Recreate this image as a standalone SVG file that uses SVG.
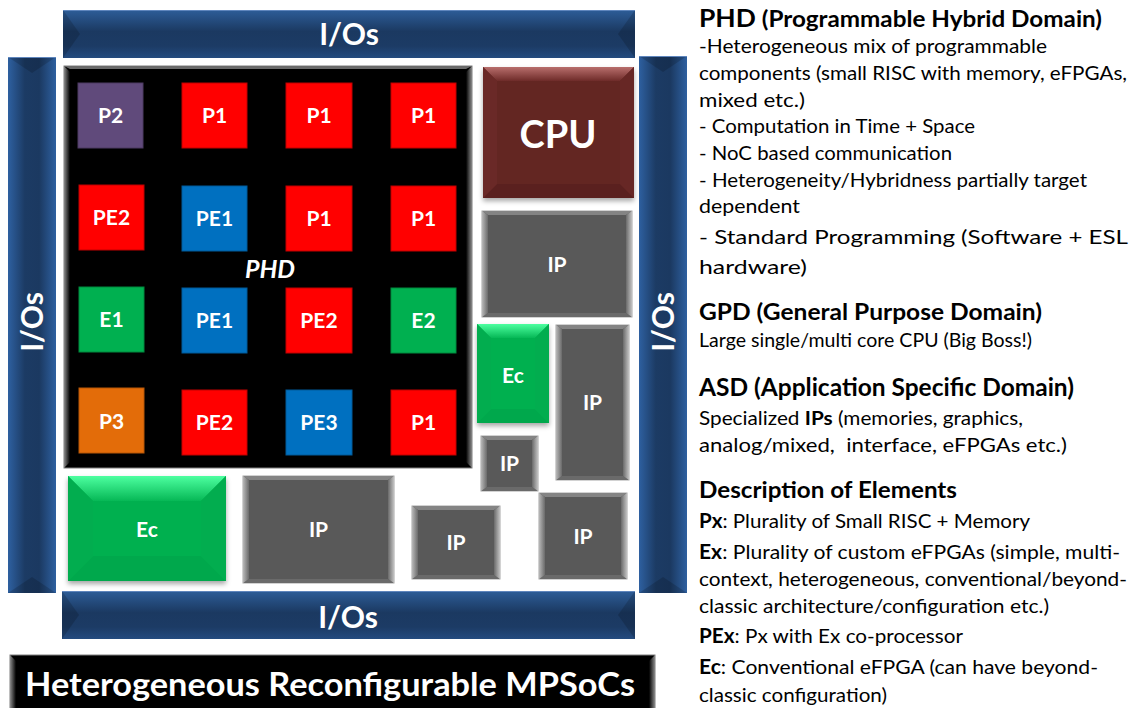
<svg xmlns="http://www.w3.org/2000/svg" width="1135" height="708" viewBox="0 0 1135 708">
<style>
.lbl{font-family:Lato,"Open Sans","Liberation Sans",sans-serif;font-weight:700;fill:#fff;text-anchor:middle}
.t21{font-size:21px}
.io{font-size:30px}
.tile{stroke-width:1}
.red{fill:#ff0000;stroke:#c00000}
.blue{fill:#0070c0;stroke:#005a9a}
.green{fill:#00b050;stroke:#008a3e}
.purple{fill:#604a7b;stroke:#4c3a62}
.orange{fill:#e36c09;stroke:#b85707}
.ipface{fill:#595959;stroke:#a6a6a6;stroke-width:1}
.ipt{fill:#848484}
.ipb{fill:#6a6a6a}
.ipl{fill:url(#ipL)}
.ipr{fill:url(#ipR)}
.endov{fill:#000;opacity:.16}
.edge{stroke:#5f86bd;stroke-width:1;fill:none}
.body{font-family:Lato,"Open Sans","Liberation Sans",sans-serif;font-size:19px;fill:#000}
.b20{font-size:20px}
.head{font-family:Lato,"Open Sans","Liberation Sans",sans-serif;font-weight:700;fill:#000}
.bold{font-weight:700}
</style>
<defs>
<linearGradient id="barH" x1="0" y1="0" x2="0" y2="1">
<stop offset="0" stop-color="#2d5d98"/>
<stop offset="0.45" stop-color="#1b3961"/>
<stop offset="0.75" stop-color="#1c3b65"/>
<stop offset="1" stop-color="#244b7f"/>
</linearGradient>
<linearGradient id="barV" x1="0" y1="0" x2="1" y2="0">
<stop offset="0" stop-color="#2e60a0"/>
<stop offset="0.35" stop-color="#1c3b64"/>
<stop offset="0.65" stop-color="#1b3961"/>
<stop offset="1" stop-color="#2e60a0"/>
</linearGradient>
<linearGradient id="ipL" x1="0" y1="0" x2="1" y2="0">
<stop offset="0" stop-color="#b8b8b8"/>
<stop offset="1" stop-color="#6a6a6a"/>
</linearGradient>
<linearGradient id="ipR" x1="0" y1="0" x2="1" y2="0">
<stop offset="0" stop-color="#6a6a6a"/>
<stop offset="1" stop-color="#c2c2c2"/>
</linearGradient>
<linearGradient id="cpuT" x1="0" y1="0" x2="0" y2="1">
<stop offset="0" stop-color="#b86e6c"/>
<stop offset="1" stop-color="#6e2b29"/>
</linearGradient>
<linearGradient id="ecT" x1="0" y1="0" x2="0" y2="1">
<stop offset="0" stop-color="#4dffa0"/>
<stop offset="1" stop-color="#06b856"/>
</linearGradient>
<linearGradient id="blkL" x1="0" y1="0" x2="1" y2="0">
<stop offset="0" stop-color="#8c8c8c"/>
<stop offset="1" stop-color="#000"/>
</linearGradient>
<linearGradient id="blkR" x1="0" y1="0" x2="1" y2="0">
<stop offset="0" stop-color="#000"/>
<stop offset="1" stop-color="#8c8c8c"/>
</linearGradient>
<filter id="sh" x="-10%" y="-10%" width="120%" height="130%">
<feDropShadow dx="0" dy="3" stdDeviation="2.5" flood-color="#000" flood-opacity="0.35"/>
</filter>
</defs>
<rect width="1135" height="708" fill="#fff"/>

<g id="io-top">
<rect x="63" y="10" width="572" height="48" fill="url(#barH)"/>
<polygon class="endov" points="63,10 80,34 63,58"/>
<polygon class="endov" points="635,10 618,34 635,58"/>
<line class="edge" x1="63" y1="10.5" x2="635" y2="10.5"/>
<text class="lbl io" x="349" y="45">I/Os</text>
</g>
<g id="io-bottom">
<rect x="62" y="591" width="573" height="48" fill="url(#barH)"/>
<polygon class="endov" points="62,591 79,615 62,639"/>
<polygon class="endov" points="635,591 618,615 635,639"/>
<line class="edge" x1="62" y1="591.5" x2="635" y2="591.5"/>
<text class="lbl io" x="348" y="628">I/Os</text>
</g>
<g id="io-left">
<rect x="8" y="57" width="48" height="536" fill="url(#barV)"/>
<polygon class="endov" points="8,57 56,57 32,73"/>
<polygon class="endov" points="8,593 56,593 32,577"/>
<line class="edge" x1="8" y1="57.5" x2="56" y2="57.5"/>
<text class="lbl io" transform="translate(32,322) rotate(-90)" x="0" y="11">I/Os</text>
</g>
<g id="io-right">
<rect x="639" y="56" width="48" height="537" fill="url(#barV)"/>
<polygon class="endov" points="639,56 687,56 663,72"/>
<polygon class="endov" points="639,593 687,593 663,577"/>
<line class="edge" x1="639" y1="56.5" x2="687" y2="56.5"/>
<text class="lbl io" transform="translate(663,322) rotate(-90)" x="0" y="11">I/Os</text>
</g>

<g id="phd">
<rect x="64" y="66" width="408" height="402" fill="#000" stroke="#7f7f7f" stroke-width="1"/>
<polygon points="64,66 70,72 70,462 64,468" fill="url(#blkL)"/>
<polygon points="472,66 466,72 466,462 472,468" fill="url(#blkR)"/>
<polygon points="64,66 472,66 466,69 70,69" fill="#6a6a6a"/>
<text class="lbl" x="270" y="278" font-size="25" font-style="italic">PHD</text>
</g>

<g id="tile-r1c1"><rect class="tile purple" x="78" y="83" width="65" height="65"/><text class="lbl t21" x="110.5" y="123">P2</text></g>
<g id="tile-r1c2"><rect class="tile red" x="182" y="83" width="65" height="65"/><text class="lbl t21" x="214.5" y="123">P1</text></g>
<g id="tile-r1c3"><rect class="tile red" x="286" y="83" width="66" height="65"/><text class="lbl t21" x="319" y="123">P1</text></g>
<g id="tile-r1c4"><rect class="tile red" x="391" y="83" width="65" height="65"/><text class="lbl t21" x="423.5" y="123">P1</text></g>

<g id="tile-r2c1"><rect class="tile red" x="79" y="185" width="65" height="65"/><text class="lbl t21" x="111.5" y="225">PE2</text></g>
<g id="tile-r2c2"><rect class="tile blue" x="182" y="186" width="65" height="65"/><text class="lbl t21" x="214.5" y="226">PE1</text></g>
<g id="tile-r2c3"><rect class="tile red" x="286" y="186" width="66" height="65"/><text class="lbl t21" x="319" y="226">P1</text></g>
<g id="tile-r2c4"><rect class="tile red" x="391" y="186" width="65" height="65"/><text class="lbl t21" x="423.5" y="226">P1</text></g>

<g id="tile-r3c1"><rect class="tile green" x="79" y="287" width="65" height="65"/><text class="lbl t21" x="111.5" y="327">E1</text></g>
<g id="tile-r3c2"><rect class="tile blue" x="182" y="288" width="65" height="65"/><text class="lbl t21" x="214.5" y="328">PE1</text></g>
<g id="tile-r3c3"><rect class="tile red" x="286" y="288" width="66" height="65"/><text class="lbl t21" x="319" y="328">PE2</text></g>
<g id="tile-r3c4"><rect class="tile green" x="391" y="288" width="65" height="65"/><text class="lbl t21" x="423.5" y="328">E2</text></g>

<g id="tile-r4c1"><rect class="tile orange" x="79" y="388" width="65" height="65"/><text class="lbl t21" x="111.5" y="429">P3</text></g>
<g id="tile-r4c2"><rect class="tile red" x="182" y="390" width="65" height="65"/><text class="lbl t21" x="214.5" y="430">PE2</text></g>
<g id="tile-r4c3"><rect class="tile blue" x="286" y="390" width="66" height="65"/><text class="lbl t21" x="319" y="430">PE3</text></g>
<g id="tile-r4c4"><rect class="tile red" x="391" y="390" width="65" height="65"/><text class="lbl t21" x="423.5" y="430">P1</text></g>

<g id="cpu">
<g filter="url(#sh)">
<rect x="483" y="67" width="151" height="131" fill="#632523"/>
</g>
<polygon points="483,67 634,67 620,81 497,81" fill="url(#cpuT)"/>
<polygon points="483,198 634,198 620,184 497,184" fill="#5a201f"/>
<polygon points="483,67 497,81 497,184 483,198" fill="#6a2927"/>
<polygon points="634,67 620,81 620,184 634,198" fill="#672725"/>
<text class="lbl" x="558" y="148" font-size="38">CPU</text>
</g>

<g id="ip-1">
<rect class="ipface" x="482" y="211" width="150" height="106"/>
<polygon class="ipt" points="482,211 632,211 626,215 488,215"/>
<polygon class="ipb" points="482,317 632,317 626,313 488,313"/>
<polygon class="ipl" points="482,211 488,215 488,313 482,317"/>
<polygon class="ipr" points="632,211 626,215 626,313 632,317"/>
<text class="lbl t21" x="557" y="272">IP</text>
</g>

<g id="ec-1">
<g filter="url(#sh)"><rect x="477" y="324" width="72" height="99" fill="#00b050"/></g>
<polygon points="477,324 549,324 535,338 491,338" fill="url(#ecT)"/>
<polygon points="477,423 549,423 535,409 491,409" fill="#00a84c"/>
<polygon points="477,324 491,338 491,409 477,423" fill="#02ad4f"/>
<polygon points="549,324 535,338 535,409 549,423" fill="#02ad4f"/>
<text class="lbl t21" x="513" y="383">Ec</text>
</g>

<g id="ip-2">
<rect class="ipface" x="556" y="325" width="73" height="155"/>
<polygon class="ipt" points="556,325 629,325 623,329 562,329"/>
<polygon class="ipb" points="556,480 629,480 623,476 562,476"/>
<polygon class="ipl" points="556,325 562,329 562,476 556,480"/>
<polygon class="ipr" points="629,325 623,329 623,476 629,480"/>
<text class="lbl t21" x="592.5" y="410">IP</text>
</g>

<g id="ip-3">
<rect class="ipface" x="481" y="436" width="57" height="55"/>
<polygon class="ipt" points="481,436 538,436 532,440 487,440"/>
<polygon class="ipb" points="481,491 538,491 532,487 487,487"/>
<polygon class="ipl" points="481,436 487,440 487,487 481,491"/>
<polygon class="ipr" points="538,436 532,440 532,487 538,491"/>
<text class="lbl t21" x="509.5" y="471">IP</text>
</g>

<g id="ip-4">
<rect class="ipface" x="539" y="493" width="88" height="86"/>
<polygon class="ipt" points="539,493 627,493 621,497 545,497"/>
<polygon class="ipb" points="539,579 627,579 621,575 545,575"/>
<polygon class="ipl" points="539,493 545,497 545,575 539,579"/>
<polygon class="ipr" points="627,493 621,497 621,575 627,579"/>
<text class="lbl t21" x="583" y="544">IP</text>
</g>

<g id="ip-5">
<rect class="ipface" x="412" y="506" width="88" height="73"/>
<polygon class="ipt" points="412,506 500,506 494,510 418,510"/>
<polygon class="ipb" points="412,579 500,579 494,575 418,575"/>
<polygon class="ipl" points="412,506 418,510 418,575 412,579"/>
<polygon class="ipr" points="500,506 494,510 494,575 500,579"/>
<text class="lbl t21" x="456" y="550">IP</text>
</g>

<g id="ip-6">
<rect class="ipface" x="243" y="476" width="151" height="107"/>
<polygon class="ipt" points="243,476 394,476 388,480 249,480"/>
<polygon class="ipb" points="243,583 394,583 388,579 249,579"/>
<polygon class="ipl" points="243,476 249,480 249,579 243,583"/>
<polygon class="ipr" points="394,476 388,480 388,579 394,583"/>
<text class="lbl t21" x="318.5" y="537">IP</text>
</g>

<g id="ec-2">
<g filter="url(#sh)"><rect x="68" y="476" width="158" height="105" fill="#00b050"/></g>
<polygon points="68,476 226,476 201,501 93,501" fill="url(#ecT)"/>
<polygon points="68,581 226,581 201,556 93,556" fill="#00a84c"/>
<polygon points="68,476 93,501 93,556 68,581" fill="#02ad4f"/>
<polygon points="226,476 201,501 201,556 226,581" fill="#02ad4f"/>
<text class="lbl t21" x="147" y="537">Ec</text>
</g>

<g id="title">
<rect x="10" y="655" width="645" height="60" fill="#000" stroke="#7f7f7f" stroke-width="1"/>
<polygon points="10,655 16,661 16,708 10,708" fill="url(#blkL)"/>
<polygon points="655,655 649,661 649,708 655,708" fill="url(#blkR)"/>
<text class="lbl" x="330" y="696" font-size="33" textLength="610" lengthAdjust="spacingAndGlyphs">Heterogeneous Reconfigurable MPSoCs</text>
</g>

<g id="connectors"></g>

<g id="legend">
<text class="head" x="699" y="27" font-size="22" textLength="403" lengthAdjust="spacingAndGlyphs"><tspan font-size="24">PHD</tspan> (Programmable Hybrid Domain)</text>
<text class="body" x="699" y="53" textLength="348" lengthAdjust="spacingAndGlyphs">-Heterogeneous mix of programmable</text>
<text class="body" x="699" y="80" textLength="428" lengthAdjust="spacingAndGlyphs">components (small RISC with memory, eFPGAs,</text>
<text class="body" x="699" y="107" textLength="106" lengthAdjust="spacingAndGlyphs">mixed etc.)</text>
<text class="body" x="699" y="133" textLength="276" lengthAdjust="spacingAndGlyphs">- Computation in Time + Space</text>
<text class="body" x="699" y="160" textLength="253" lengthAdjust="spacingAndGlyphs">- NoC based communication</text>
<text class="body" x="699" y="187" textLength="388" lengthAdjust="spacingAndGlyphs">- Heterogeneity/Hybridness partially target</text>
<text class="body" x="699" y="213" textLength="101" lengthAdjust="spacingAndGlyphs">dependent</text>
<text class="body" x="699" y="244" font-size="22" textLength="429" lengthAdjust="spacingAndGlyphs">- Standard Programming (Software + ESL</text>
<text class="body" x="699" y="274" font-size="22" textLength="108" lengthAdjust="spacingAndGlyphs">hardware)</text>

<text class="head" x="699" y="320" font-size="23" textLength="343" lengthAdjust="spacingAndGlyphs">GPD (General Purpose Domain)</text>
<text class="body" x="699" y="347" textLength="333" lengthAdjust="spacingAndGlyphs">Large single/multi core CPU (Big Boss!)</text>

<text class="head" x="699" y="396" font-size="24" textLength="375" lengthAdjust="spacingAndGlyphs">ASD (Application Specific Domain)</text>
<text class="body" x="699" y="425" textLength="324" lengthAdjust="spacingAndGlyphs">Specialized <tspan class="bold">IPs</tspan> (memories, graphics,</text>
<text class="body" x="699" y="452" textLength="368" lengthAdjust="spacingAndGlyphs" style="white-space:pre">analog/mixed,  interface, eFPGAs etc.)</text>

<text class="head" x="699" y="498" font-size="22" textLength="258" lengthAdjust="spacingAndGlyphs">Description of Elements</text>
<text class="body b20" x="699" y="528" textLength="331" lengthAdjust="spacingAndGlyphs"><tspan class="bold">Px</tspan>: Plurality of Small RISC + Memory</text>
<text class="body b20" x="699" y="559" textLength="421" lengthAdjust="spacingAndGlyphs"><tspan class="bold">Ex</tspan>: Plurality of custom eFPGAs (simple, multi-</text>
<text class="body b20" x="699" y="586" textLength="428" lengthAdjust="spacingAndGlyphs">context, heterogeneous, conventional/beyond-</text>
<text class="body b20" x="699" y="613" textLength="350" lengthAdjust="spacingAndGlyphs">classic architecture/configuration etc.)</text>
<text class="body b20" x="699" y="643" textLength="264" lengthAdjust="spacingAndGlyphs"><tspan class="bold">PEx</tspan>: Px with Ex co-processor</text>
<text class="body b20" x="699" y="674" textLength="399" lengthAdjust="spacingAndGlyphs"><tspan class="bold">Ec</tspan>: Conventional eFPGA (can have beyond-</text>
<text class="body b20" x="699" y="702" textLength="188" lengthAdjust="spacingAndGlyphs">classic configuration)</text>
</g>
</svg>
